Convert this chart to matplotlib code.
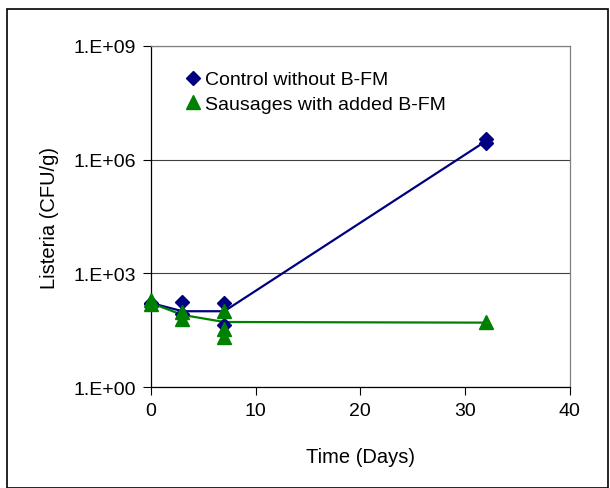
import numpy as np
import matplotlib
matplotlib.use("Agg")
import matplotlib.pyplot as plt
from matplotlib.patches import Rectangle

plt.rcParams['font.family'] = ['Liberation Sans', 'DejaVu Sans']

# replicate counts (CFU/g)
ctrl_days = [0, 0, 3, 3, 7, 7, 32, 32]
ctrl_vals = [160, 170, 175, 85, 170, 43, 3.5e6, 2.8e6]
bfm_days = [0, 0, 3, 3, 7, 7, 7, 32]
bfm_vals = [200, 160, 95, 62, 100, 34, 21, 51]

# mean curves
mean_days = [0, 3, 7, 32]
ctrl_mean = [165, 100, 100, 3.1e6]
bfm_mean = [165, 80, 52, 50]

fig = plt.figure(figsize=(6.1, 4.89), dpi=100)
ax = fig.add_axes([0.2475, 0.2065, 0.6865, 0.6974])

ax.plot(mean_days, ctrl_mean, color='#000080', lw=1.6, zorder=2, clip_on=False)
ax.plot(mean_days, bfm_mean, color='#008000', lw=1.6, zorder=2, clip_on=False)
ax.plot(ctrl_days, ctrl_vals, 'D', color='#000080', ms=7.5, ls='none',
        label='Control without B-FM', zorder=3, clip_on=False)
ax.plot(bfm_days, bfm_vals, '^', color='#008000', ms=9.5, ls='none',
        label='Sausages with added B-FM', zorder=4, clip_on=False)

ax.set_yscale('log')
ax.set_ylim(1, 1e9)
ax.set_xlim(0, 40)
ax.set_yticks([1, 1e3, 1e6, 1e9])
ax.set_yticklabels(['1.E+00', '1.E+03', '1.E+06', '1.E+09'])
ax.yaxis.set_minor_locator(matplotlib.ticker.NullLocator())
ax.set_xticks([0, 10, 20, 30, 40])
ax.grid(axis='y', color='#404040', lw=0.8)
ax.tick_params(labelsize=14, direction='out', length=6, pad=5)
for s in ax.spines.values():
    s.set_linewidth(0.9)
ax.spines['top'].set_color('#808080')
ax.spines['right'].set_color('#808080')

ax.set_xlabel('Time (Days)', fontsize=14.5, labelpad=20)
ax.set_ylabel('Listeria (CFU/g)', fontsize=14.5, labelpad=10)

ax.legend(loc='upper left', bbox_to_anchor=(0.055, 0.95), frameon=False,
          fontsize=14, handletextpad=0.0, handlelength=1.2,
          borderaxespad=0, labelspacing=0.35)

fig.patches.append(Rectangle((0.0115, 0.0), 0.986, 0.98, transform=fig.transFigure,
                             fill=False, edgecolor='black', lw=1.2))

fig.savefig('out.png', dpi=100)
